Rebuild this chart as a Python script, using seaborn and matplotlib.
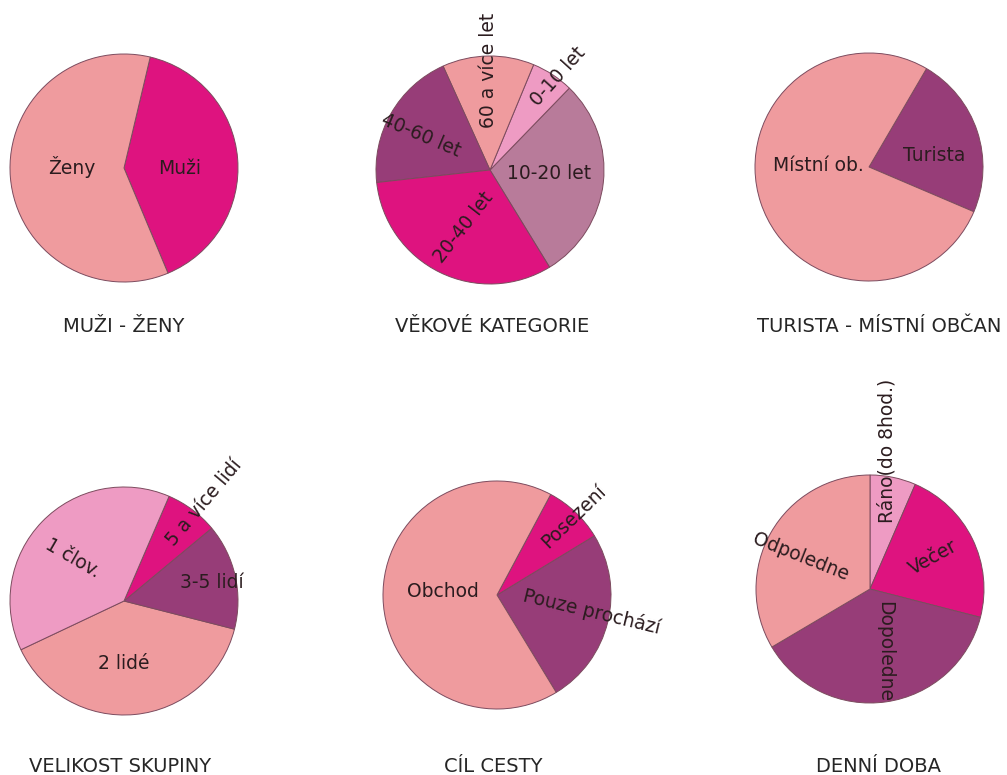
import matplotlib
matplotlib.use("Agg")
import matplotlib.pyplot as plt
import seaborn as sns

# ---- data ----
sex_labels = ["Muži", "Ženy"]
sex_values = [40, 60]

age_labels = ["10-20 let", "0-10 let", "60 a více let", "40-60 let", "20-40 let"]
age_values = [29, 6, 13, 20, 32]

visitor_labels = ["Turista", "Místní ob."]
visitor_values = [23, 77]

group_labels = ["2 lidé", "3-5 lidí", "5 a více lidí", "1 člov."]
group_values = [39, 15, 7.5, 38.5]

purpose_labels = ["Pouze prochází", "Posezení", "Obchod"]
purpose_values = [25, 8.5, 66.5]

time_labels = ["Ráno(do 8hod.)", "Večer", "Dopoledne", "Odpoledne"]
time_values = [6.5, 22.5, 37.5, 33.5]

titles = ["MUŽI - ŽENY", "VĚKOVÉ KATEGORIE", "TURISTA - MÍSTNÍ OBČAN",
          "VELIKOST SKUPINY", "CÍL CESTY", "DENNÍ DOBA"]

# ---- style ----
sns.set_theme(style="white")
plt.rcParams['font.family'] = ['DejaVu Sans']

SALMON = "#EF9B9E"
PINK = "#EE9BC3"
MAUVE = "#B87B9A"
PLUM = "#973D78"
MAGENTA = "#DE137F"

W, H = 1007, 775
R = 114.0      # pie radius in px
L = 1.4        # axes half-extent in radius units

charts = [
    dict(values=sex_values, labels=sex_labels, colors=[MAGENTA, SALMON],
         start=-67.3, ccw=True, center=(124, 168),
         text=[(0.49, 0.0, 0), (-0.46, 0.01, 0)], title_pos=(124, 326)),
    dict(values=age_values, labels=age_labels,
         colors=[MAUVE, PINK, SALMON, PLUM, MAGENTA],
         start=-58.5, ccw=True, center=(490, 170),
         text=[(0.52, -0.03, 0), (0.60, 0.82, 48), (-0.015, 0.87, 90),
               (-0.61, 0.30, -23), (-0.23, -0.50, 52)], title_pos=(492, 326)),
    dict(values=visitor_values, labels=visitor_labels, colors=[PLUM, SALMON],
         start=-23.1, ccw=True, center=(869, 167),
         text=[(0.57, 0.105, 0), (-0.445, 0.01, 0)], title_pos=(879, 327)),
    dict(values=group_values, labels=group_labels,
         colors=[SALMON, PLUM, MAGENTA, PINK],
         start=-154.7, ccw=True, center=(124, 601),
         text=[(-0.006, -0.55, 0), (0.77, 0.16, 0), (0.70, 0.86, 50),
               (-0.445, 0.375, -30)], title_pos=(120, 767)),
    dict(values=purpose_values, labels=purpose_labels,
         colors=[PLUM, MAGENTA, SALMON],
         start=-58.7, ccw=True, center=(497, 595),
         text=[(0.83, -0.146, -13.5), (0.67, 0.69, 44), (-0.476, 0.03, 0)],
         title_pos=(493, 767)),
    dict(values=time_values, labels=time_labels,
         colors=[PINK, MAGENTA, PLUM, SALMON],
         start=90, ccw=False, center=(870, 589),
         text=[(0.15, 1.21, 90), (0.55, 0.28, 29), (0.13, -0.55, -90),
               (-0.61, 0.28, -21.6)], title_pos=(879, 767)),
]

fig = plt.figure(figsize=(W / 100, H / 100), dpi=100)
fig.patch.set_facecolor("white")

LABEL_COLOR = "#2b1c1f"
TITLE_COLOR = "#262626"

for ch, title in zip(charts, titles):
    cx, cy = ch["center"]
    size = 2 * L * R
    ax = fig.add_axes([(cx - L * R) / W, (H - cy - L * R) / H, size / W, size / H])
    ax.pie(ch["values"], colors=ch["colors"], startangle=ch["start"],
           counterclock=ch["ccw"], radius=1.0,
           wedgeprops=dict(edgecolor="#7c4b5e", linewidth=0.7))
    ax.set_xlim(-L, L)
    ax.set_ylim(-L, L)
    ax.set_aspect("equal")
    ax.axis("off")
    for lab, (tx, ty, rot) in zip(ch["labels"], ch["text"]):
        ax.text(tx, ty, lab, rotation=rot, rotation_mode="anchor",
                ha="center", va="center", fontsize=13.5, color=LABEL_COLOR,
                clip_on=False)
    tx, ty = ch["title_pos"]
    fig.text(tx / W, 1 - ty / H, title, ha="center", va="center",
             fontsize=14, color=TITLE_COLOR)

fig.savefig("out.png", dpi=100, facecolor="white")
